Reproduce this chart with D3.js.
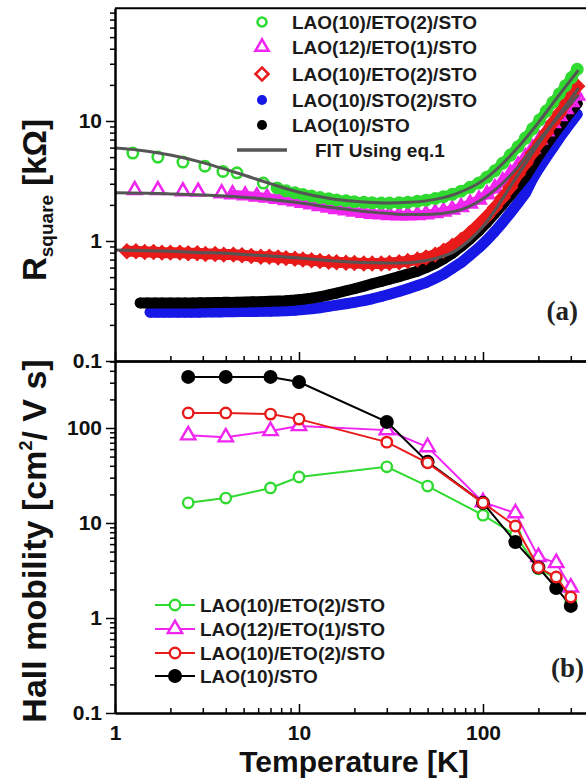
<!DOCTYPE html>
<html><head><meta charset="utf-8">
<script src="https://cdn.jsdelivr.net/npm/d3@7"></script>
<style>body{margin:0;background:#fff}svg{display:block}</style>
</head><body><svg id="c" width="586" height="782"></svg>
<script>
// ---------- DATA: panel (a) sheet resistance [kOhm] vs T [K] ----------
const tempDense = [8.5,9.5,10.5,11.7,13,14.5,16,18,20,22.5,25,28,31,35,39,44,49,55,61,68,76,85,95,105,116,128,141,155,170,186,203,221,240,260,281,303,325];

const greenLowT = [1.25,1.71,2.34,3.08,3.86,4.6,6.4,7.6];
const greenLowR = [5.4,5.0,4.55,4.2,3.8,3.7,3.04,2.77];
const greenR = [2.62,2.52,2.44,2.37,2.3,2.25,2.2,2.16,2.12,2.1,2.08,2.07,2.07,2.08,2.1,2.14,2.19,2.26,2.34,2.45,2.6,2.8,3.05,3.4,3.85,4.45,5.2,6.1,7.2,8.6,10.2,12.1,14.3,16.8,19.7,23,27];

const magentaLowT = [1.28,1.71,2.34,2.83,3.8,4.35,5.1,5.9,6.7,7.6];
const magentaLowR = [2.66,2.66,2.6,2.58,2.5,2.45,2.4,2.35,2.3,2.25];
const magentaR = [2.2,2.14,2.08,2.02,1.96,1.9,1.85,1.8,1.76,1.72,1.69,1.67,1.65,1.64,1.64,1.65,1.67,1.71,1.76,1.83,1.92,2.05,2.22,2.45,2.75,3.15,3.65,4.25,5.0,5.9,7.0,8.2,9.6,11.0,12.6,14.4,16.3];

const redLowT = [1.16,1.3,1.45,1.62,1.8,2.0,2.25,2.5,2.8,3.1,3.5,3.9,4.4,4.9,5.5,6.2,6.9,7.7];
const redLowR = [0.82,0.82,0.81,0.81,0.8,0.8,0.8,0.79,0.79,0.78,0.78,0.77,0.77,0.76,0.75,0.74,0.74,0.73];
const redR = [0.72,0.71,0.7,0.69,0.68,0.67,0.665,0.66,0.655,0.65,0.65,0.65,0.655,0.665,0.68,0.7,0.73,0.77,0.83,0.91,1.02,1.17,1.37,1.6,1.9,2.3,2.8,3.6,4.4,5.4,6.6,8.0,9.7,11.6,13.9,16.5,19.5];

const blueLowT = [1.55,1.7,1.85,2.0,2.2,2.4,2.6,2.85,3.1,3.4,3.7,4.0,4.4,4.8,5.3,5.8,6.4,7.0,7.7];
const blueLowR = [0.255,0.255,0.255,0.255,0.255,0.255,0.255,0.255,0.256,0.256,0.256,0.257,0.257,0.258,0.258,0.259,0.26,0.26,0.261];
const blueR = [0.262,0.265,0.268,0.272,0.278,0.285,0.292,0.3,0.308,0.318,0.33,0.345,0.36,0.38,0.4,0.425,0.45,0.49,0.53,0.59,0.66,0.76,0.88,1.02,1.2,1.43,1.72,2.07,2.5,3.3,4.1,5.0,6.0,7.2,8.5,9.9,11.4];

const blackLowT = [1.37,1.5,1.65,1.8,2.0,2.2,2.4,2.65,2.9,3.2,3.5,3.85,4.2,4.6,5.1,5.6,6.2,6.9,7.7];
const blackLowR = [0.305,0.305,0.305,0.305,0.305,0.305,0.305,0.305,0.306,0.306,0.307,0.308,0.308,0.309,0.31,0.311,0.312,0.314,0.316];
const blackR = [0.318,0.322,0.327,0.334,0.343,0.355,0.368,0.385,0.4,0.42,0.44,0.46,0.48,0.505,0.53,0.56,0.6,0.65,0.71,0.79,0.9,1.04,1.22,1.43,1.7,2.02,2.42,2.9,3.45,4.3,5.3,6.4,7.6,9.0,10.6,12.3,14];

const fitT = [1,1.5,2,3,4,5,7,10,15,20,30,40,50,70,100,150,200,250,300,330];
const fitGreen = [5.95,5.6,5.2,4.5,3.95,3.55,3.0,2.55,2.25,2.14,2.07,2.1,2.17,2.45,3.2,5.7,9.7,15.3,22,26.5];
const fitMagenta = [2.52,2.5,2.47,2.42,2.37,2.32,2.22,2.08,1.9,1.8,1.7,1.66,1.66,1.76,2.25,3.9,6.8,10.3,14,16.5];
const fitRed = [0.84,0.83,0.82,0.8,0.79,0.77,0.75,0.72,0.685,0.665,0.655,0.66,0.69,0.82,1.32,3.3,6.4,10.5,15.3,18.8];

const legendA = ['LAO(10)/ETO(2)/STO','LAO(12)/ETO(1)/STO','LAO(10)/ETO(2)/STO','LAO(10)/STO(2)/STO','LAO(10)/STO','FIT Using eq.1'];

// ---------- DATA: panel (b) Hall mobility [cm^2/Vs] vs T [K] ----------
const tempB = [2.5,4,7,10,30,50,100,150,200,250,300];
const muGreen = [16.3,18.3,23.4,30.5,39,24.5,12.1,7.5,3.3,2.6,1.5];
const muMagenta = [84,80,93,105,95,63,16.6,12.7,4.4,3.8,2.1];
const muRed = [144,144,140,124,71,43,16.3,9.3,3.4,2.7,1.66];
const muBlack = [345,345,345,305,116,44,16.3,6.3,3.4,2.07,1.34];
const legendB = ['LAO(10)/ETO(2)/STO','LAO(12)/ETO(1)/STO','LAO(10)/ETO(2)/STO','LAO(10)/STO'];

const xMajors = [1,10,100];
const yAMajors = [0.1,1,10];
const yBMajors = [0.1,1,10,100];

// ---------- STYLE ----------
const FONT = 'Arial, "Liberation Sans", Helvetica, sans-serif';
const C = {green:'#30da30', magenta:'#f026f0', red:'#e81a1a', blue:'#1818e6', black:'#000000', fit:'#555555'};

const svg = d3.select('#c');
const x = d3.scaleLog().domain([1,380]).range([115, 115 + 184*Math.log10(380)]);
const yA = d3.scaleLog().domain([0.1,87]).range([361, 241 - 120*Math.log10(87)]);
const yB = d3.scaleLog().domain([0.1,500]).range([713, 428 - 95*Math.log10(5)]);
const xR = x.range()[1];

const fmt = d => d >= 1 ? d3.format('d')(d) : String(d);

function sym(type, s) {
  if (type === 'tri') return d3.symbol(d3.symbolTriangle, s)();
  if (type === 'dia') return d3.symbol(d3.symbolSquare, s)();
  return d3.symbol(d3.symbolCircle, s)();
}
function marker(g, type, color, cx, cy, opts) {
  const p = g.append('path').attr('d', sym(type, opts.size))
    .attr('transform', `translate(${cx},${cy})` + (type === 'dia' ? ' rotate(45)' : ''));
  if (type === 'fcircle') p.attr('fill', color).attr('stroke', 'none');
  else p.attr('fill', opts.fill).attr('stroke', color).attr('stroke-width', opts.sw);
  return p;
}

// clip paths
const defs = svg.append('defs');
defs.append('clipPath').attr('id','clipA').append('rect')
  .attr('x', x(1)).attr('y', yA.range()[1]).attr('width', xR - x(1)).attr('height', yA.range()[0] - yA.range()[1]);
defs.append('clipPath').attr('id','clipB').append('rect')
  .attr('x', x(1)).attr('y', yB.range()[1]).attr('width', xR - x(1)).attr('height', yB.range()[0] - yB.range()[1]);

// ---------- PANEL A ----------
const seriesA = [
  {T: blueLowT.concat(tempDense), R: blueLowR.concat(blueR), color: C.blue, type:'fcircle', size: 85, band: 1, bw: 11},
  {T: blackLowT.concat(tempDense), R: blackLowR.concat(blackR), color: C.black, type:'fcircle', size: 90, band: 1, bw: 11},
  {T: magentaLowT.concat(tempDense), R: magentaLowR.concat(magentaR), color: C.magenta, type:'tri', size: 80, band: 4, bw: 9},
  {T: redLowT.concat(tempDense), R: redLowR.concat(redR), color: C.red, type:'dia', size: 82, band: 1, bw: 11},
  {T: greenLowT.concat(tempDense), R: greenLowR.concat(greenR), color: C.green, type:'ocircle', size: 85, band: 7, bw: 10}
];
const gA = svg.append('g').attr('clip-path','url(#clipA)');
const lineA = d3.line().x(d => x(d[0])).y(d => yA(d[1]));
seriesA.forEach(s => {
  const pts = s.T.map((t,i) => [t, s.R[i]]);
  gA.append('path').attr('d', lineA(pts.filter(p => p[0] >= s.band)))
    .attr('fill','none').attr('stroke', s.color).attr('stroke-width', s.bw)
    .attr('stroke-linecap','round').attr('stroke-linejoin','round');
  const gm = gA.append('g');
  pts.forEach(p => marker(gm, s.type, s.color, x(p[0]), yA(p[1]), {size: s.size, fill:'none', sw: 2.6}));
});
[fitGreen, fitMagenta, fitRed].forEach(f => {
  gA.append('path').attr('d', d3.line().curve(d3.curveMonotoneX).x(d => x(d[0])).y(d => yA(d[1]))(fitT.map((t,i) => [t, f[i]])))
    .attr('fill','none').attr('stroke', C.fit).attr('stroke-width', 3);
});

// legend A
const legA = svg.append('g');
const legAItems = [
  {type:'ocircle', color:C.green, size:64}, {type:'tri', color:C.magenta, size:75},
  {type:'dia', color:C.red, size:85}, {type:'fcircle', color:C.blue, size:80},
  {type:'fcircle', color:C.black, size:80}, {type:'fit', color:C.fit}
];
const legARows = [22,47,74,100,125,150];
legAItems.forEach((it, i) => {
  const cy = legARows[i];
  if (it.type === 'fit') {
    legA.append('line').attr('x1', 237).attr('x2', 287).attr('y1', cy).attr('y2', cy)
      .attr('stroke', it.color).attr('stroke-width', 3.5);
  } else {
    marker(legA, it.type, it.color, 262, cy, {size: it.size, fill:'none', sw: 2.6});
  }
  legA.append('text').attr('x', it.type === 'fit' ? 315 : 292).attr('y', cy + 7)
    .attr('font-family', FONT).attr('font-weight','bold').attr('font-size', 19)
    .attr('fill','#1a1a1a').text(legendA[i]);
});

// ---------- PANEL B ----------
const seriesB = [
  {R: muGreen, color: C.green, type:'ocircle'},
  {R: muMagenta, color: C.magenta, type:'tri'},
  {R: muBlack, color: C.black, type:'fcircle'},
  {R: muRed, color: C.red, type:'ocircle'}
];
const gB = svg.append('g').attr('clip-path','url(#clipB)');
const lineB = d3.line().x(d => x(d[0])).y(d => yB(d[1]));
const bOpts = {ocircle:{size: Math.PI*5.2*5.2}, tri:{size: 90}, fcircle:{size: Math.PI*7*7}};
seriesB.forEach(s => {
  const pts = tempB.map((t,i) => [t, s.R[i]]);
  gB.append('path').attr('d', lineB(pts)).attr('fill','none').attr('stroke', s.color).attr('stroke-width', 2);
  pts.forEach(p => marker(gB, s.type, s.color, x(p[0]), yB(p[1]), {size: bOpts[s.type].size, fill:'#fff', sw: 2.4}));
});

// legend B
const legB = svg.append('g');
const legBItems = [{type:'ocircle', color:C.green}, {type:'tri', color:C.magenta}, {type:'ocircle', color:C.red}, {type:'fcircle', color:C.black}];
const legBRows = [605,629,653,676];
legBItems.forEach((it, i) => {
  const cy = legBRows[i];
  legB.append('line').attr('x1',155).attr('x2',195).attr('y1',cy).attr('y2',cy).attr('stroke', it.color).attr('stroke-width',2);
  marker(legB, it.type, it.color, 175, cy, {size: bOpts[it.type].size, fill:'#fff', sw: 2.4});
  legB.append('text').attr('x', 200).attr('y', cy + 7)
    .attr('font-family', FONT).attr('font-weight','bold').attr('font-size', 19)
    .attr('fill','#1a1a1a').text(legendB[i]);
});

// ---------- AXES ----------
function styleAxis(g) {
  g.selectAll('.domain').attr('stroke','#000').attr('stroke-width',2);
  g.selectAll('.tick line').attr('stroke','#000').attr('stroke-width',1.5);
  g.selectAll('.tick text').attr('font-family', FONT).attr('font-weight','bold').attr('font-size',21).attr('fill','#111');
}
function leftAxis(scale, majors) {
  const minors = scale.ticks().filter(v => !majors.some(m => Math.abs(v-m)/m < 1e-6));
  const g1 = svg.append('g').attr('transform', `translate(${x(1)},0)`)
    .call(d3.axisLeft(scale).tickValues(minors).tickSizeInner(5).tickSizeOuter(0).tickFormat(''));
  styleAxis(g1);
  const g2 = svg.append('g').attr('transform', `translate(${x(1)},0)`)
    .call(d3.axisLeft(scale).tickValues(majors).tickSizeInner(9).tickSizeOuter(0).tickPadding(4).tickFormat(fmt));
  styleAxis(g2);
}
function bottomAxis(yPos, labels) {
  const minors = x.ticks().filter(v => !xMajors.some(m => Math.abs(v-m)/m < 1e-6));
  const g1 = svg.append('g').attr('transform', `translate(0,${yPos})`)
    .call(d3.axisBottom(x).tickValues(minors).tickSizeInner(-5).tickSizeOuter(0).tickFormat(''));
  styleAxis(g1);
  const g2 = svg.append('g').attr('transform', `translate(0,${yPos})`)
    .call(d3.axisBottom(x).tickValues(xMajors).tickSizeInner(-9).tickSizeOuter(0).tickPadding(12).tickFormat(labels ? fmt : ''));
  styleAxis(g2);
}
leftAxis(yA, yAMajors);
leftAxis(yB, yBMajors);
bottomAxis(yA.range()[0], false);
bottomAxis(yB.range()[0], true);
// top frame lines
svg.append('line').attr('x1', x(1)).attr('x2', xR).attr('y1', yA.range()[1]).attr('y2', yA.range()[1]).attr('stroke','#000').attr('stroke-width',2);
svg.append('line').attr('x1', x(1)).attr('x2', xR).attr('y1', yB.range()[1]).attr('y2', yB.range()[1]).attr('stroke','#000').attr('stroke-width',2);

// ---------- LABELS ----------
const ya = svg.append('text').attr('transform','translate(46,200) rotate(-90)').attr('text-anchor','middle')
  .attr('font-family', FONT).attr('font-weight','bold').attr('font-size',33).attr('fill','#111');
ya.append('tspan').text('R');
ya.append('tspan').attr('font-size',19).attr('dy',7).text('square');
ya.append('tspan').attr('dy',-7).text(' [k\u03A9]');

const yb = svg.append('text').attr('transform','translate(46,541) rotate(-90)').attr('text-anchor','middle')
  .attr('font-family', FONT).attr('font-weight','bold').attr('font-size',34).attr('fill','#111');
yb.append('tspan').text('Hall mobility [cm');
yb.append('tspan').attr('font-size',18).attr('dy',-14).text('2');
yb.append('tspan').attr('dy',14).text('/ V s]');

svg.append('text').attr('x',354).attr('y',772).attr('text-anchor','middle')
  .attr('font-family', FONT).attr('font-weight','bold').attr('font-size',30).attr('fill','#111').text('Temperature [K]');

svg.append('text').attr('x',578).attr('y',320).attr('text-anchor','end')
  .attr('font-family','"Liberation Serif", "Times New Roman", serif').attr('font-weight','bold').attr('font-size',27).attr('fill','#222').text('(a)');
svg.append('text').attr('x',584).attr('y',677).attr('text-anchor','end')
  .attr('font-family','"Liberation Serif", "Times New Roman", serif').attr('font-weight','bold').attr('font-size',27).attr('fill','#222').text('(b)');
</script></body></html>
